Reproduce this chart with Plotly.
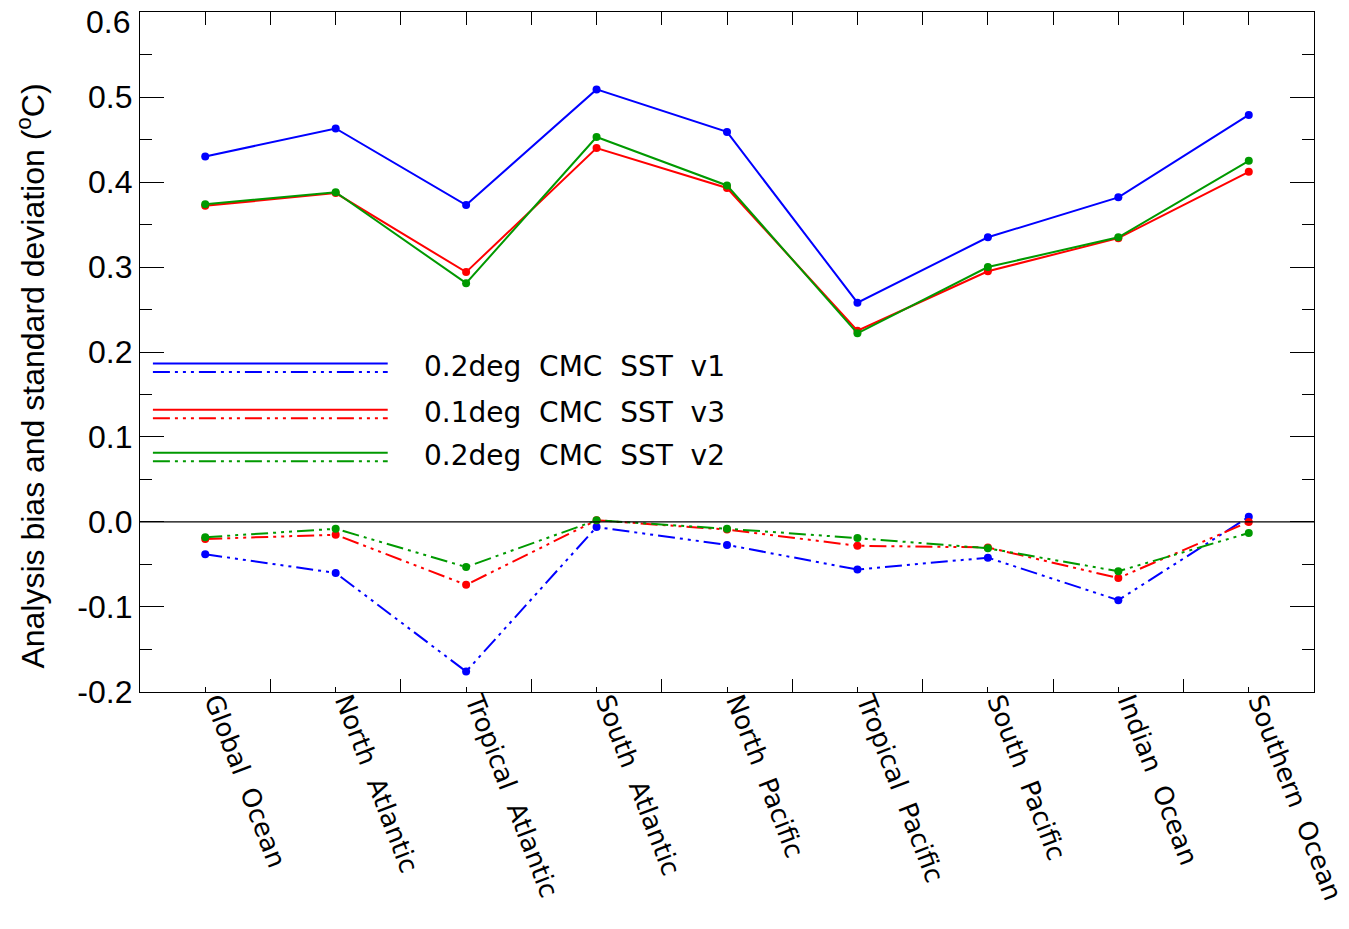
import plotly.graph_objects as go

regions = ["Global Ocean", "North Atlantic", "Tropical Atlantic", "South Atlantic",
           "North Pacific", "Tropical Pacific", "South Pacific", "Indian Ocean", "Southern Ocean"]

std_v1 = [0.430, 0.463, 0.373, 0.509, 0.459, 0.258, 0.335, 0.382, 0.479]
std_v3 = [0.372, 0.387, 0.294, 0.440, 0.393, 0.225, 0.295, 0.334, 0.412]
std_v2 = [0.374, 0.388, 0.281, 0.453, 0.396, 0.222, 0.300, 0.335, 0.425]

bias_v1 = [-0.038, -0.060, -0.176, -0.006, -0.027, -0.056, -0.042, -0.092, 0.006]
bias_v3 = [-0.020, -0.015, -0.074, 0.002, -0.009, -0.028, -0.030, -0.066, 0.000]
bias_v2 = [-0.018, -0.008, -0.053, 0.002, -0.008, -0.019, -0.031, -0.058, -0.013]

labels = ["0.2deg CMC SST v1", "0.1deg CMC SST v3", "0.2deg CMC SST v2"]
colors = ["#0000ff", "#ff0000", "#009900"]

y_ticks = [-0.2, -0.1, 0.0, 0.1, 0.2, 0.3, 0.4, 0.5, 0.6]
y_ticktext = ["-0.2", "-0.1", "0.0", "0.1", "0.2", "0.3", "0.4", "0.5", "0.6"]
y_title = "Analysis bias and standard deviation (<sup>o</sup>C)"

DASH = "17px,5px,3px,5px,3px,5px,3px,5px"
xs = list(range(len(regions)))
wide = lambda s: s.replace(" ", "  ")
TICKFONT = dict(family="Liberation Sans", size=32, color="black")

fig = go.Figure()
for s, c in [(std_v1, colors[0]), (std_v3, colors[1]), (std_v2, colors[2])]:
    fig.add_trace(go.Scatter(x=xs, y=s, mode="lines+markers", line=dict(color=c, width=2),
                             marker=dict(color=c, size=8), showlegend=False))
for b, c in [(bias_v1, colors[0]), (bias_v3, colors[1]), (bias_v2, colors[2])]:
    fig.add_trace(go.Scatter(x=xs, y=b, mode="lines+markers", line=dict(color=c, width=2, dash=DASH),
                             marker=dict(color=c, size=8), showlegend=False))
# invisible trace for top axis
fig.add_trace(go.Scatter(x=[xs[0]], y=[0], xaxis="x2", mode="markers", marker=dict(opacity=0),
                         showlegend=False, hoverinfo="skip"))

# zero line
fig.add_shape(type="line", xref="paper", yref="y", x0=0, x1=1, y0=0, y1=0,
              line=dict(color="black", width=1.3))

# legend built from shapes/annotations
leg_y = [0.483, 0.415, 0.352]
for i, (lab, c) in enumerate(zip(labels, colors)):
    ys = leg_y[i]
    fig.add_shape(type="line", xref="paper", yref="paper", x0=0.011, x1=0.211,
                  y0=ys, y1=ys, line=dict(color=c, width=2))
    fig.add_shape(type="line", xref="paper", yref="paper", x0=0.011, x1=0.211,
                  y0=ys - 0.0125, y1=ys - 0.0125, line=dict(color=c, width=2, dash=DASH))
    fig.add_annotation(xref="paper", yref="paper", x=0.240, y=ys - 0.004, text=wide(lab),
                       showarrow=False, xanchor="left", yanchor="middle",
                       font=dict(family="DejaVu Sans", size=28, color="black"))

# top y tick label, nudged inside the figure like the original
fig.add_annotation(xref="paper", yref="y", x=0, y=y_ticks[-1], text=y_ticktext[-1], showarrow=False,
                   xanchor="right", yanchor="middle", xshift=-8, yshift=-10, font=TICKFONT)
# y axis title
fig.add_annotation(xref="paper", yref="paper", x=-0.093, y=0.465, text=y_title, textangle=-90,
                   showarrow=False, xanchor="center", yanchor="middle",
                   font=dict(family="Liberation Sans", size=32, color="black"))

fig.update_layout(
    width=1349, height=929,
    margin=dict(l=140, r=35, t=12, b=237, autoexpand=False),
    plot_bgcolor="white", paper_bgcolor="white",
    xaxis=dict(range=[-0.5, 8.5], tickmode="array", tickvals=xs, ticktext=[wide(r) for r in regions],
               ticks="inside", ticklen=5, tickwidth=1, tickcolor="black",
               tickangle=69, tickfont=dict(family="DejaVu Sans", size=26, color="black"),
               ticklabelstandoff=-17, ticklabelshift=11, automargin=False,
               ticklabeloverflow="allow",
               showline=True, linecolor="black", linewidth=1.3, mirror=False,
               showgrid=False, zeroline=False,
               minor=dict(tickmode="array", tickvals=[x + 0.5 for x in xs[:-1]], ticks="inside",
                          ticklen=13, tickwidth=1, tickcolor="black", showgrid=False)),
    xaxis2=dict(matches="x", overlaying="x", side="top", range=[-0.5, 8.5], tickmode="array",
                tickvals=[v / 2 for v in range(0, 17)], showticklabels=False,
                ticks="inside", ticklen=13, tickwidth=1, tickcolor="black", automargin=False,
                showline=True, linecolor="black", linewidth=1.3, showgrid=False, zeroline=False),
    yaxis=dict(range=[-0.2001, 0.6001], tickmode="array", tickvals=y_ticks[:-1],
               ticktext=y_ticktext[:-1], ticklabeloverflow="allow",
               ticks="inside", ticklen=24, tickwidth=1, tickcolor="black",
               tickfont=TICKFONT, automargin=False,
               showline=True, linecolor="black", linewidth=1.3, mirror="ticks",
               showgrid=False, zeroline=False,
               minor=dict(tickmode="array", tickvals=[v + 0.05 for v in y_ticks[:-1]], ticks="inside",
                          ticklen=12, tickwidth=1, tickcolor="black", showgrid=False)),
)

fig.write_html("out.html", config={"displayModeBar": False},
               post_script="document.body.style.margin='0';")
